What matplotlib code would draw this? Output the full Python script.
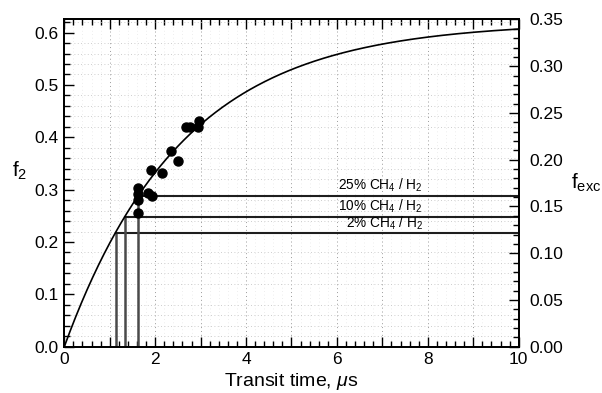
import numpy as np
import matplotlib
matplotlib.use("Agg")
import matplotlib.pyplot as plt
from matplotlib.ticker import MultipleLocator, FuncFormatter

plt.rcParams['font.family'] = ['Liberation Sans', 'DejaVu Sans']
plt.rcParams['mathtext.fontset'] = 'custom'
plt.rcParams['mathtext.rm'] = 'Liberation Sans'
plt.rcParams['mathtext.it'] = 'Liberation Sans:italic'

# Measured transit times (us) and f2 values
transit_time = [1.63, 1.62, 1.62, 1.62, 1.84, 1.92, 1.91, 2.16,
                2.34, 2.50, 2.68, 2.77, 2.95, 2.96]
f2_measured = [0.256, 0.281, 0.291, 0.303, 0.294, 0.288, 0.337, 0.331,
               0.374, 0.355, 0.419, 0.419, 0.419, 0.431]

# Saturation model f2(t) = f_sat * (1 - exp(-t / tau))
f_sat = 0.620
tau = 2.6

# Mixture levels and where they cross the model curve
mix_labels = ["2% CH$_4$ / H$_2$", "10% CH$_4$ / H$_2$", "25% CH$_4$ / H$_2$"]
mix_f2 = [0.217, 0.248, 0.288]
mix_t = [1.13, 1.33, 1.62]

fig = plt.figure(figsize=(6.02, 3.93), dpi=100)
ax = fig.add_axes([0.1068, 0.1178, 0.7548, 0.8326])

x_max = 10
f2_max = 0.625
fexc_max = 0.35

t = np.linspace(0, x_max, 400)
ax.plot(t, f_sat * (1 - np.exp(-t / tau)), color='black', lw=1.2, zorder=3)

for lbl, lev, tc in zip(mix_labels, mix_f2, mix_t):
    ax.plot([tc, tc], [0, lev], color='#4a4a4a', lw=1.8, zorder=2)
    ax.plot([tc, x_max], [lev, lev], color='#1e1e1e', lw=1.5, zorder=2)
    ax.text(7.9, lev + 0.003, lbl, ha='right', va='bottom', fontsize=9.8, zorder=4)

ax.plot(transit_time, f2_measured, 'o', color='black', ms=6.5, zorder=5)

ax.set_xlim(0, x_max)
ax.set_ylim(0, f2_max)

ax.xaxis.set_major_locator(MultipleLocator(1))
ax.xaxis.set_minor_locator(MultipleLocator(0.2))
ax.xaxis.set_major_formatter(FuncFormatter(lambda v, p: f"{v:.0f}" if round(v) % 2 == 0 else ""))
ax.yaxis.set_major_locator(MultipleLocator(0.1))
ax.yaxis.set_minor_locator(MultipleLocator(0.02))
ax.yaxis.set_major_formatter(FuncFormatter(lambda v, p: f"{v:.1f}"))

ax.tick_params(which='both', direction='in', top=True, right=False, labelsize=12.5, width=1.0)
ax.tick_params(which='major', length=7)
ax.tick_params(which='minor', length=4)
ax.tick_params(axis='y', pad=4)
ax.tick_params(axis='x', pad=4)

ax.grid(which='major', axis='x', linestyle=(0, (1, 3)), color='#9a9a9a', lw=0.7)
ax.grid(which='minor', axis='y', linestyle=(0, (1, 3)), color='#bdbdbd', lw=0.6)
ax.grid(which='minor', axis='x', linestyle=(0, (1, 4)), color='#dddddd', lw=0.5)
ax.set_axisbelow(True)

for s in ax.spines.values():
    s.set_linewidth(1.3)

ax2 = ax.twinx()
ax2.set_ylim(0, fexc_max)
ax2.yaxis.set_major_locator(MultipleLocator(0.05))
ax2.yaxis.set_minor_locator(MultipleLocator(0.01))
ax2.yaxis.set_major_formatter(FuncFormatter(lambda v, p: f"{v:.2f}"))
ax2.tick_params(which='both', direction='in', labelsize=12.5, width=1.0, pad=8)
ax2.tick_params(which='major', length=7)
ax2.tick_params(which='minor', length=4)
for s in ax2.spines.values():
    s.set_linewidth(1.3)

ax.set_xlabel("Transit time, $\\mu$s", fontsize=14, labelpad=3)
fig.text(0.033, 0.565, "f$_2$", fontsize=15, ha='center', va='center')
fig.text(0.973, 0.535, "f$_{\\mathrm{exc}}$", fontsize=15, ha='center', va='center')

fig.savefig("out.png", dpi=100)
